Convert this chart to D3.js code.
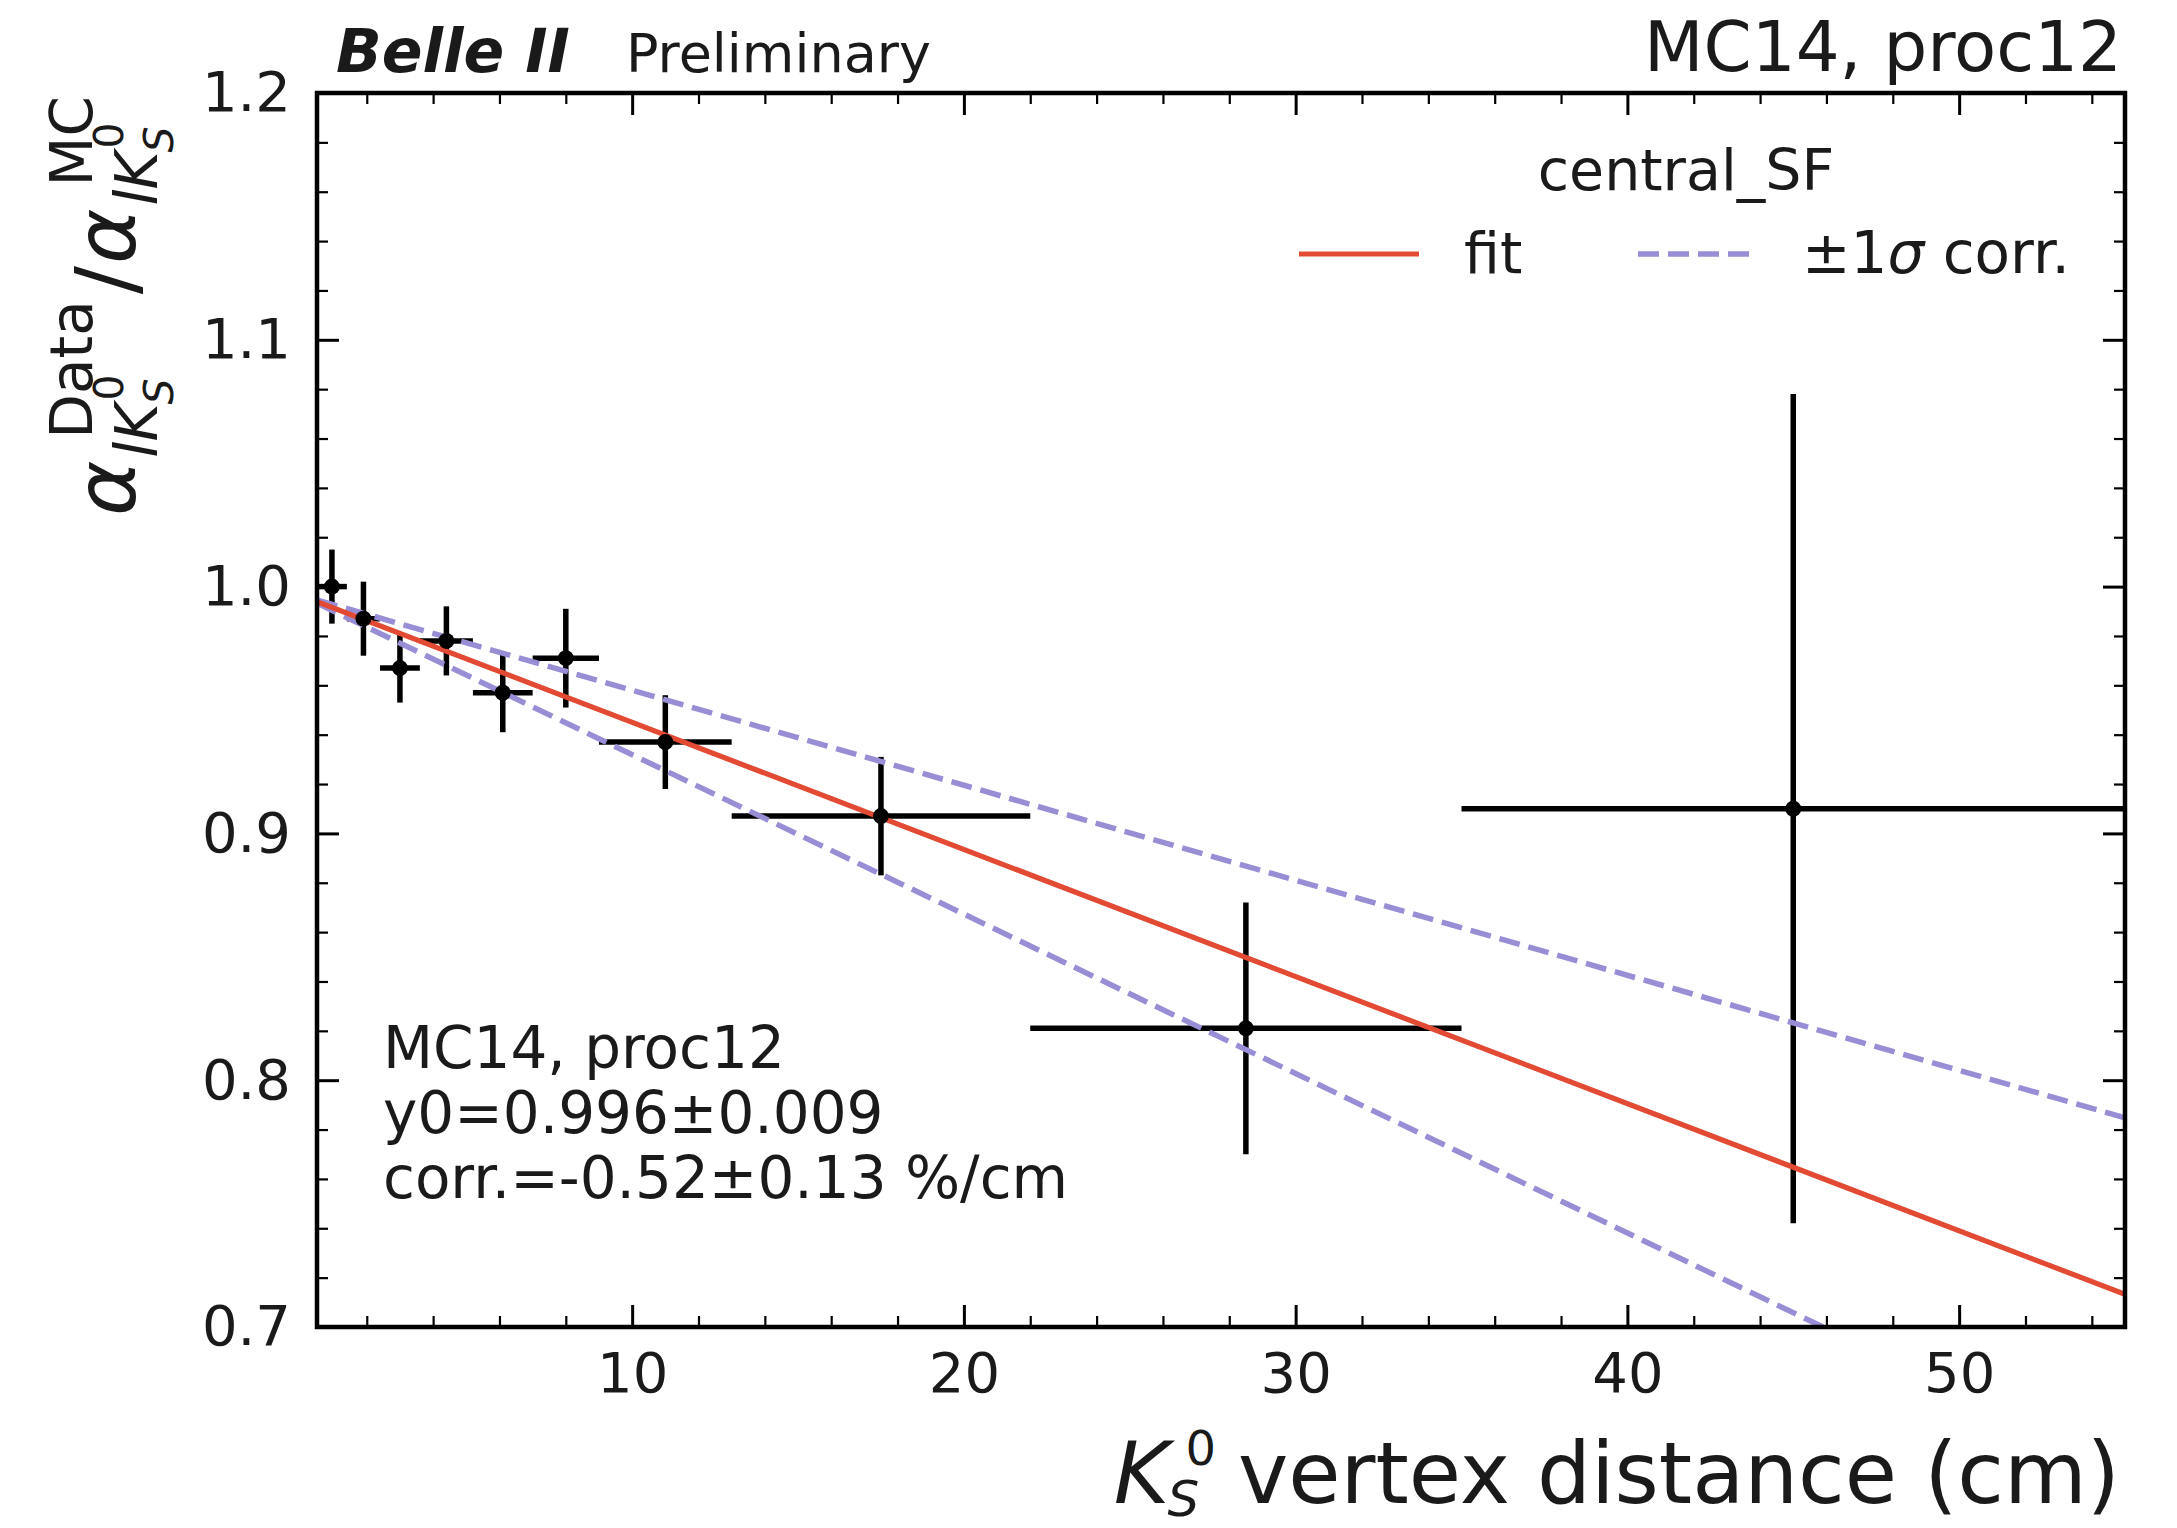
<!DOCTYPE html>
<html><head><meta charset="utf-8">
<script src="https://cdn.jsdelivr.net/npm/d3@7"></script>
<style>
body{margin:0;background:#fff}
svg{display:block}
text{font-family:"DejaVu Sans",sans-serif;fill:#1a1a1a}
</style>
</head><body>
<svg id="c" width="2177" height="1528"></svg>
<script>
// ---------------- data ----------------
const binLow    = [0.5, 1.4, 2.4, 3.6, 5.2, 7, 9, 13, 22, 35];
const binHigh   = [1.4, 2.4, 3.6, 5.2, 7, 9, 13, 22, 35, 55];
const binCenter = [0.95, 1.9, 3.0, 4.4, 6.1, 8.0, 11.0, 17.5, 28.5, 45.0];
const ratio     = [1.000, 0.987, 0.967, 0.978, 0.957, 0.971, 0.937, 0.907, 0.821, 0.910];
const ratioErr  = [0.015, 0.015, 0.014, 0.014, 0.016, 0.020, 0.019, 0.024, 0.051, 0.168];
const fitY0 = 0.9965;
const fitSlope = -0.00515;
const slopeUp = -0.00385;
const slopeDown = -0.00646;
const fitRange = [0.5, 55];
const xMajorTicks = [10, 20, 30, 40, 50];
const xTickLabels = ['10', '20', '30', '40', '50'];
const xMinorTicks = [2, 4, 6, 8, 12, 14, 16, 18, 22, 24, 26, 28, 32, 34, 36, 38, 42, 44, 46, 48, 52, 54];
const yMajorTicks = [0.7, 0.8, 0.9, 1.0, 1.1, 1.2];
const yTickLabels = ['0.7', '0.8', '0.9', '1.0', '1.1', '1.2'];
const yMinorTicks = [0.72, 0.74, 0.76, 0.78, 0.82, 0.84, 0.86, 0.88, 0.92, 0.94, 0.96, 0.98,
                     1.02, 1.04, 1.06, 1.08, 1.12, 1.14, 1.16, 1.18];
const boxLines = ['MC14, proc12', 'y0=0.996\u00b10.009', 'corr.=-0.52\u00b10.13 %/cm'];

// ---------------- layout ----------------
const M = {left: 317, right: 2125, top: 93, bottom: 1327};
const RED = '#E24A33', PURPLE = '#988ED5';
const DASH = '21,9';
const svg = d3.select('#c');
const x = d3.scaleLinear().domain([0.5, 55]).range([M.left, M.right]);
const y = d3.scaleLinear().domain([0.7, 1.2]).range([M.bottom, M.top]);

svg.append('defs').append('clipPath').attr('id', 'clip').append('rect')
  .attr('x', M.left).attr('y', M.top).attr('width', M.right - M.left).attr('height', M.bottom - M.top);

// ---------------- axes ----------------
function styleAxis(g, sw) {
  g.select('.domain').remove();
  g.selectAll('.tick line').attr('stroke', '#000').attr('stroke-width', sw);
  g.attr('font-family', '"DejaVu Sans", sans-serif').attr('font-size', 56);
  g.selectAll('text').attr('fill', '#1a1a1a');
}
const xLab = d => xTickLabels[xMajorTicks.indexOf(d)];
const yLab = d => yTickLabels[yMajorTicks.indexOf(d)];
svg.append('g').attr('transform', `translate(0,${M.bottom})`)
  .call(d3.axisBottom(x).tickValues(xMajorTicks).tickSize(-22).tickPadding(25).tickFormat(xLab))
  .call(g => styleAxis(g, 3));
svg.append('g').attr('transform', `translate(0,${M.bottom})`)
  .call(d3.axisBottom(x).tickValues(xMinorTicks).tickSize(-11).tickFormat(''))
  .call(g => styleAxis(g, 2.2));
svg.append('g').attr('transform', `translate(0,${M.top})`)
  .call(d3.axisTop(x).tickValues(xMajorTicks).tickSize(-22).tickFormat(''))
  .call(g => styleAxis(g, 3));
svg.append('g').attr('transform', `translate(0,${M.top})`)
  .call(d3.axisTop(x).tickValues(xMinorTicks).tickSize(-11).tickFormat(''))
  .call(g => styleAxis(g, 2.2));
svg.append('g').attr('transform', `translate(${M.left},0)`)
  .call(d3.axisLeft(y).tickValues(yMajorTicks).tickSize(-22).tickPadding(26).tickFormat(yLab))
  .call(g => styleAxis(g, 3));
svg.append('g').attr('transform', `translate(${M.left},0)`)
  .call(d3.axisLeft(y).tickValues(yMinorTicks).tickSize(-11).tickFormat(''))
  .call(g => styleAxis(g, 2.2));
svg.append('g').attr('transform', `translate(${M.right},0)`)
  .call(d3.axisRight(y).tickValues(yMajorTicks).tickSize(-22).tickFormat(''))
  .call(g => styleAxis(g, 3));
svg.append('g').attr('transform', `translate(${M.right},0)`)
  .call(d3.axisRight(y).tickValues(yMinorTicks).tickSize(-11).tickFormat(''))
  .call(g => styleAxis(g, 2.2));

// ---------------- data marks ----------------
const pts = binCenter.map((c, i) => ({c, lo: binLow[i], hi: binHigh[i], v: ratio[i], e: ratioErr[i]}));
const plot = svg.append('g').attr('clip-path', 'url(#clip)');
const eb = plot.append('g').attr('stroke', '#000').attr('stroke-width', 5.5);
eb.selectAll('line.h').data(pts).join('line').attr('class', 'h')
  .attr('x1', d => x(d.lo)).attr('x2', d => x(d.hi)).attr('y1', d => y(d.v)).attr('y2', d => y(d.v));
eb.selectAll('line.v').data(pts).join('line').attr('class', 'v')
  .attr('x1', d => x(d.c)).attr('x2', d => x(d.c)).attr('y1', d => y(d.v - d.e)).attr('y2', d => y(d.v + d.e));

const line = d3.line().x(d => x(d[0])).y(d => y(d[1]));
const lineData = s => fitRange.map(t => [t, fitY0 + s * t]);
plot.append('path').datum(lineData(slopeUp)).attr('d', line)
  .attr('fill', 'none').attr('stroke', PURPLE).attr('stroke-width', 5.5).attr('stroke-dasharray', DASH);
plot.append('path').datum(lineData(slopeDown)).attr('d', line)
  .attr('fill', 'none').attr('stroke', PURPLE).attr('stroke-width', 5.5).attr('stroke-dasharray', DASH);
plot.append('path').datum(lineData(fitSlope)).attr('d', line)
  .attr('fill', 'none').attr('stroke', RED).attr('stroke-width', 5.2);

plot.append('g').selectAll('circle').data(pts).join('circle')
  .attr('cx', d => x(d.c)).attr('cy', d => y(d.v)).attr('r', 8).attr('fill', '#000');

// frame
svg.append('rect').attr('x', M.left).attr('y', M.top).attr('width', M.right - M.left)
  .attr('height', M.bottom - M.top).attr('fill', 'none').attr('stroke', '#000').attr('stroke-width', 4.5);

// ---------------- texts ----------------
function txt(g, s, px, py, size, opts = {}) {
  const t = g.append('text').attr('x', px).attr('y', py).attr('font-size', size).text(s);
  if (opts.italic) t.attr('font-style', 'italic');
  if (opts.bold) t.attr('font-weight', 'bold');
  if (opts.anchor) t.attr('text-anchor', opts.anchor);
  return t;
}
const W = t => t.node().getComputedTextLength();

txt(svg, 'Belle II', 336, 72, 60, {italic: true, bold: true});
txt(svg, 'Preliminary', 626, 72, 54);
txt(svg, 'MC14, proc12', M.right - 3, 71, 69, {anchor: 'end'});

// legend
txt(svg, 'central_SF', 1686, 190, 57, {anchor: 'middle'});
svg.append('line').attr('x1', 1299).attr('x2', 1419).attr('y1', 254).attr('y2', 254)
  .attr('stroke', RED).attr('stroke-width', 5.2);
svg.append('line').attr('x1', 1638).attr('x2', 1756).attr('y1', 254).attr('y2', 254)
  .attr('stroke', PURPLE).attr('stroke-width', 5.5).attr('stroke-dasharray', DASH);
txt(svg, 'fit', 1464, 273, 57);
const corrT = txt(svg, '', 1802, 273, 58);
corrT.append('tspan').text('\u00b11');
corrT.append('tspan').attr('font-style', 'italic').text('\u03c3');
corrT.append('tspan').text(' corr.');

// info box
boxLines.forEach((s, i) => txt(svg, s, 383, 1068 + i * 65, 58));

// x label
{
  const g = svg.append('g');
  const k = txt(g, 'K', 0, 0, 85, {italic: true});
  const kw = W(k);
  const sup = txt(g, '0', kw + 16, -38, 48);
  const sub = txt(g, 'S', kw - 2, 13, 50, {italic: true});
  const endS = Math.max(kw + 16 + W(sup), kw - 2 + W(sub));
  const rest = txt(g, 'vertex distance (cm)', endS + 22, 0, 85);
  const total = endS + 22 + W(rest);
  g.attr('transform', `translate(${M.right - 5 - total},1503)`);
}

// y label (rotated)
{
  const g = svg.append('g');
  const fMain = 84, fSub = 58, fSS = 41;
  function alphaBlock(x0, supText) {
    const a = txt(g, '\u03b1', x0, 0, fMain, {italic: true});
    const aw = W(a);
    const sx = x0 + aw + 3;
    const lk = txt(g, 'lK', sx, 22, fSub, {italic: true});
    const lkw = W(lk);
    const z = txt(g, '0', sx + lkw + 3, -12, fSS);
    const s = txt(g, 'S', sx + lkw - 1, 38, fSS, {italic: true});
    const subEnd = Math.max(sx + lkw + 3 + W(z), sx + lkw - 1 + W(s));
    const px = x0 + aw + 22;
    const sp = txt(g, supText, px, -43, fSub);
    return Math.max(subEnd, px + W(sp));
  }
  const e1 = alphaBlock(0, 'Data');
  const sl = txt(g, '/', e1 + 6, 0, fMain);
  const e2 = alphaBlock(e1 + 6 + W(sl) + 2, 'MC');
  g.attr('transform', `translate(135,${96 + e2}) rotate(-90)`);
}
</script>
</body></html>
